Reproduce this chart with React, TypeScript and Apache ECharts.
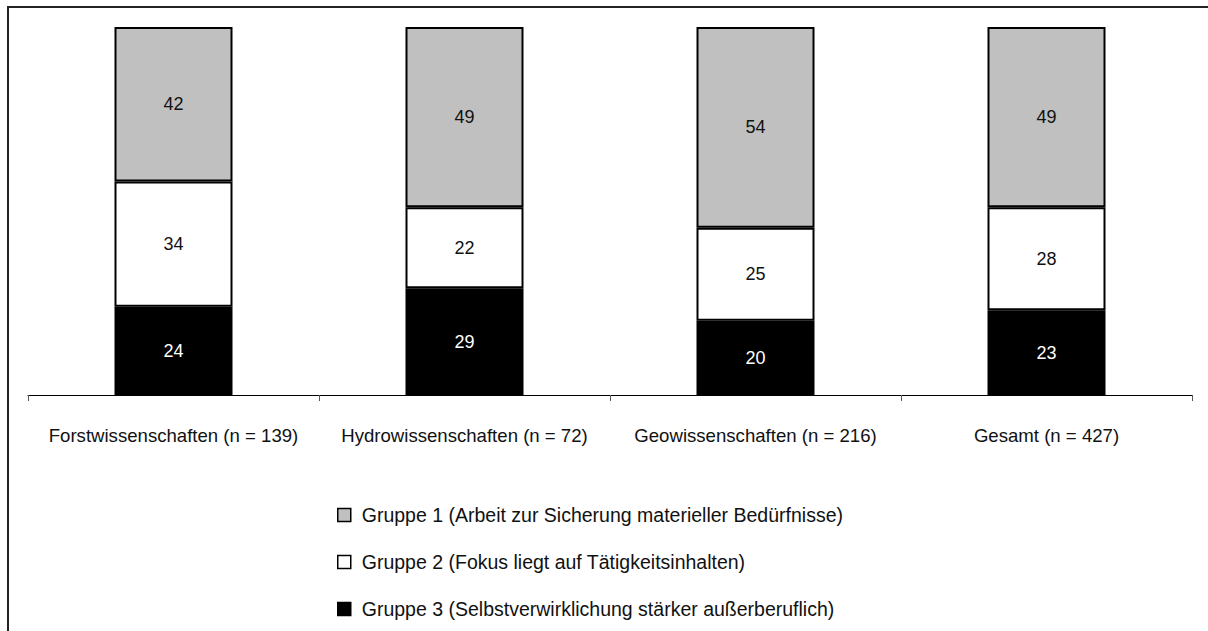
import React, { useEffect, useRef } from "react";
import * as echarts from "echarts";

const categories = [
  "Forstwissenschaften (n = 139)",
  "Hydrowissenschaften (n = 72)",
  "Geowissenschaften (n = 216)",
  "Gesamt (n = 427)",
];
const seriesNames = [
  "Gruppe 1 (Arbeit zur Sicherung materieller Bedürfnisse)",
  "Gruppe 2 (Fokus liegt auf Tätigkeitsinhalten)",
  "Gruppe 3 (Selbstverwirklichung stärker außerberuflich)",
];
const gruppe1 = [42, 49, 54, 49];
const gruppe2 = [34, 22, 25, 28];
const gruppe3 = [24, 29, 20, 23];

const FONT = "'Liberation Sans', Arial, sans-serif";

export default function App() {
  const ref = useRef<HTMLDivElement>(null);
  useEffect(() => {
    if (!ref.current) return;
    const chart = echarts.init(ref.current, undefined, { renderer: "svg" });
    const totals = categories.map((_, i) => gruppe1[i] + gruppe2[i] + gruppe3[i]);
    const toData = (arr: number[]) =>
      arr.map((v, i) => ({ value: (v / totals[i]) * 100, raw: v }));
    const mk = (name: string, arr: number[], color: string, labelColor: string) => ({
      name,
      type: "bar",
      stack: "total",
      barWidth: 118,
      data: toData(arr),
      itemStyle: { color, borderColor: "#000", borderWidth: 2 },
      label: {
        show: true,
        position: "inside",
        color: labelColor,
        fontFamily: FONT,
        fontSize: 18,
        formatter: (p: any) => String(p.data.raw),
      },
    });
    chart.setOption({
      animation: false,
      backgroundColor: "#fff",
      grid: { left: 28, right: 16, top: 27, bottom: 236, containLabel: false },
      xAxis: {
        type: "category",
        data: categories,
        axisLine: { lineStyle: { color: "#000", width: 1 } },
        axisTick: { show: true, length: 6, alignWithLabel: false, lineStyle: { color: "#555" } },
        axisLabel: {
          interval: 0,
          color: "#111",
          fontFamily: FONT,
          fontSize: 18.6,
          margin: 30,
          lineHeight: 20,
        },
      },
      yAxis: { type: "value", min: 0, max: 100, show: false },
      legend: {
        data: [seriesNames[0], seriesNames[1], seriesNames[2]],
        orient: "vertical",
        left: 337,
        top: 505,
        padding: 0,
        itemWidth: 13,
        itemHeight: 13,
        itemGap: 27,
        icon: "rect",
        itemStyle: { borderColor: "#000", borderWidth: 1.5 },
        textStyle: {
          color: "#111",
          fontFamily: FONT,
          fontSize: 19.5,
          lineHeight: 20,
          padding: [0, 0, 0, 6],
        },
      },
      graphic: [
        {
          type: "rect",
          shape: { x: 8, y: 7, width: 1400, height: 800 },
          style: { fill: "none", stroke: "#222", lineWidth: 2 },
          silent: true,
        },
      ],
      series: [
        mk(seriesNames[2], gruppe3, "#000000", "#ffffff"),
        mk(seriesNames[1], gruppe2, "#ffffff", "#111111"),
        mk(seriesNames[0], gruppe1, "#c0c0c0", "#111111"),
      ],
    });
    return () => chart.dispose();
  }, []);
  return (
    <div
      ref={ref}
      style={{ position: "absolute", left: 0, top: 0, width: 1208, height: 631 }}
    />
  );
}
